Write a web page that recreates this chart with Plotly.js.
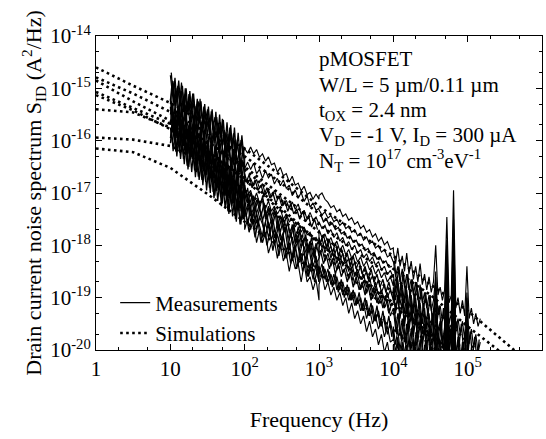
<!DOCTYPE html>
<html>
<head>
<meta charset="utf-8">
<script src="https://cdn.plot.ly/plotly-3.0.1.min.js"></script>
<style>html,body{margin:0;padding:0;background:#fff;}</style>
</head>
<body>
<div id="chart" style="width:546px;height:439px;"></div>
<script>
// ---- frequency grids (log10 of Hz) for the four measurement ranges ----
const lfA = [1.000,1.025,1.050,1.075,1.100,1.125,1.150,1.175,1.200,1.225,1.250,1.275,1.300,1.325,1.350,1.375,1.400,1.425,1.450,1.475,1.500,1.525,1.550,1.575,1.600,1.625,1.650,1.675,1.700,1.725,1.750,1.775,1.800,1.825,1.850,1.875,1.900,1.925,1.950,1.975,2.000];
const lfB = [2.00,2.04,2.08,2.12,2.16,2.20,2.24,2.28,2.32,2.36,2.40,2.44,2.48,2.52,2.56,2.60,2.64,2.68,2.72,2.76,2.80,2.84,2.88,2.92,2.96,3.00];
const lfC = [3.00,3.04,3.08,3.12,3.16,3.20,3.24,3.28,3.32,3.36,3.40,3.44,3.48,3.52,3.56,3.60,3.64,3.68,3.72,3.76,3.80,3.84,3.88,3.92,3.96,4.00];
const lfD = [4.00,4.03,4.06,4.09,4.12,4.15,4.18,4.21,4.24,4.27,4.30,4.33,4.36,4.39,4.42,4.45,4.48,4.51,4.54,4.57,4.60,4.63,4.66,4.69,4.72,4.75,4.78,4.81,4.84,4.87,4.90,4.93,4.96,4.99,5.02,5.05,5.08,5.11,5.14,5.17];
// interleaved grids of the extra single-range sweeps
const lfA2 = [1.0125,1.0375,1.0625,1.0875,1.1125,1.1375,1.1625,1.1875,1.2125,1.2375,1.2625,1.2875,1.3125,1.3375,1.3625,1.3875,1.4125,1.4375,1.4625,1.4875,1.5125,1.5375,1.5625,1.5875,1.6125,1.6375,1.6625,1.6875,1.7125,1.7375,1.7625,1.7875,1.8125,1.8375,1.8625,1.8875,1.9125,1.9375,1.9625,1.9875];
const lfB2 = [2.02,2.06,2.10,2.14,2.18,2.22,2.26,2.30,2.34,2.38,2.42,2.46,2.50,2.54,2.58,2.62,2.66,2.70,2.74,2.78,2.82,2.86,2.90,2.94,2.98];
const lfC2 = [3.02,3.06,3.10,3.14,3.18,3.22,3.26,3.30,3.34,3.38,3.42,3.46,3.50,3.54,3.58,3.62,3.66,3.70,3.74,3.78,3.82,3.86,3.90,3.94,3.98];
const lfD2 = [4.015,4.045,4.075,4.105,4.135,4.165,4.195,4.225,4.255,4.285,4.315,4.345,4.375,4.405,4.435,4.465,4.495,4.525,4.555,4.585,4.615,4.645,4.675,4.705,4.735,4.765,4.795,4.825,4.855,4.885,4.915,4.945,4.975,5.005,5.035,5.065,5.095,5.125,5.155];

// ---- measured spectra, log10(S_ID) per range, one set per device ----
const m1A = [-14.75,-15.08,-14.86,-15.24,-14.98,-15.26,-14.89,-15.22,-15.10,-15.48,-15.11,-15.39,-15.13,-15.56,-15.34,-15.57,-15.20,-15.58,-15.41,-15.74,-15.43,-15.86,-15.44,-15.72,-15.55,-15.93,-15.66,-15.94,-15.58,-16.06,-15.84,-16.17,-15.75,-16.08,-15.86,-16.24,-15.98,-16.36,-15.99,-16.27,-16.15];
const m2A = [-15.30,-14.98,-15.26,-14.99,-15.48,-15.21,-15.44,-15.17,-15.65,-15.38,-15.26,-15.64,-15.43,-15.76,-15.34,-15.72,-15.60,-15.93,-15.51,-15.84,-15.63,-15.86,-16.04,-15.62,-16.05,-15.83,-16.21,-15.79,-16.13,-15.91,-16.29,-15.87,-16.20,-16.08,-16.46,-16.04,-16.43,-16.21,-16.54,-16.17,-16.50];
const m3A = [-15.20,-15.53,-15.12,-15.50,-15.38,-15.71,-15.30,-15.68,-15.31,-15.64,-15.83,-15.51,-15.79,-15.47,-15.96,-15.69,-15.97,-15.65,-15.94,-15.67,-16.20,-15.88,-16.12,-15.85,-16.28,-16.06,-15.90,-16.33,-16.11,-16.49,-16.08,-16.41,-16.19,-16.57,-16.16,-16.49,-16.67,-16.35,-16.64,-16.37,-16.75];
const m4A = [-15.50,-15.28,-15.77,-15.45,-15.69,-15.37,-15.80,-15.64,-15.52,-15.95,-15.69,-16.07,-15.71,-15.94,-15.67,-16.11,-15.89,-16.22,-15.81,-16.19,-16.08,-16.36,-15.99,-16.48,-16.11,-16.39,-16.13,-16.41,-16.60,-16.18,-16.61,-16.40,-16.78,-16.36,-16.70,-16.48,-16.87,-16.45,-16.88,-16.72,-17.00];
const m5A = [-15.35,-15.79,-15.62,-15.91,-15.54,-15.88,-15.66,-16.10,-15.78,-15.97,-15.75,-16.19,-15.77,-16.16,-16.04,-16.38,-16.01,-16.30,-16.03,-16.47,-16.20,-16.49,-16.12,-16.46,-16.34,-16.73,-16.31,-16.70,-16.53,-16.82,-16.40,-16.79,-16.57,-17.01,-16.74,-16.98,-16.61,-17.10,-16.83,-17.07,-16.85];
const m6A = [-15.95,-15.69,-15.92,-15.61,-16.04,-15.73,-16.21,-15.95,-15.88,-16.27,-15.85,-16.19,-16.32,-16.01,-16.49,-16.18,-16.41,-16.10,-16.58,-16.37,-16.25,-16.74,-16.42,-16.71,-16.34,-16.73,-16.86,-16.55,-16.78,-16.52,-17.00,-16.74,-17.02,-16.71,-17.19,-16.88,-17.06,-16.85,-17.28,-16.97,-17.25];
const m7A = [-15.75,-16.04,-15.77,-16.21,-16.00,-16.23,-15.87,-16.25,-16.09,-16.48,-16.06,-16.35,-16.19,-16.57,-16.31,-16.69,-16.28,-16.67,-16.50,-16.79,-16.38,-16.76,-16.55,-16.98,-16.72,-16.96,-16.64,-17.08,-16.82,-17.05,-16.74,-17.22,-17.01,-17.25,-16.93,-17.42,-17.11,-17.29,-17.13,-17.51,-17.30];
const m8A = [-15.25,-14.85,-15.10,-15.35,-14.95,-15.30,-15.05,-15.45,-15.00,-15.40,-15.20,-15.55,-15.10,-15.30,-15.65,-15.25,-15.50,-15.75,-15.35,-15.60,-15.40,-15.85,-15.50,-15.70,-16.00,-15.55,-15.90,-15.65,-16.10,-15.80,-15.95,-16.25,-15.85,-16.15,-15.95,-16.40,-16.05,-16.30,-16.55,-16.10,-16.35];
const m9A = [-15.70,-15.30,-15.55,-15.85,-15.45,-15.75,-15.40,-15.95,-15.60,-15.80,-16.10,-15.65,-15.95,-15.75,-16.20,-15.85,-16.05,-16.35,-15.95,-16.25,-16.00,-16.45,-16.15,-16.30,-16.60,-16.20,-16.50,-16.30,-16.75,-16.40,-16.60,-16.90,-16.50,-16.80,-16.55,-17.00,-16.70,-16.90,-17.15,-16.75,-16.95];
const m10A = [-16.05,-15.65,-15.95,-16.20,-15.80,-16.10,-15.90,-16.35,-16.00,-16.25,-16.50,-16.05,-16.35,-16.15,-16.60,-16.25,-16.50,-16.75,-16.35,-16.65,-16.45,-16.90,-16.55,-16.75,-17.05,-16.65,-16.95,-16.75,-17.20,-16.85,-17.05,-17.35,-16.95,-17.25,-17.00,-17.50,-17.15,-17.35,-17.60,-17.20,-17.45];

const m1B = [-16.15,-16.24,-16.12,-16.25,-16.17,-16.32,-16.25,-16.39,-16.31,-16.46,-16.43,-16.60,-16.51,-16.67,-16.63,-16.79,-16.68,-16.85,-16.81,-16.96,-16.87,-17.03,-16.99,-17.12,-17.02,-17.12];
const m2B = [-16.53,-16.41,-16.55,-16.43,-16.63,-16.55,-16.72,-16.57,-16.71,-16.64,-16.83,-16.72,-16.86,-16.75,-16.91,-16.85,-17.05,-16.94,-17.10,-16.99,-17.16,-17.05,-17.27,-17.19,-17.33,-17.29];
const m3B = [-16.63,-16.83,-16.72,-16.86,-16.74,-16.91,-16.82,-17.03,-16.94,-17.08,-16.95,-17.12,-17.05,-17.24,-17.14,-17.29,-17.17,-17.31,-17.21,-17.41,-17.33,-17.50,-17.37,-17.52,-17.46,-17.60];
const m4B = [-16.85,-17.19,-16.99,-17.33,-17.13,-17.32,-17.06,-17.46,-17.25,-17.45,-17.29,-17.68,-17.43,-17.72,-17.42,-17.76,-17.65,-17.95,-17.64,-17.94,-17.68,-18.07,-17.92,-18.21,-17.96,-18.20];
const m5B = [-17.30,-17.05,-17.44,-17.29,-17.58,-17.28,-17.53,-17.32,-17.67,-17.51,-17.86,-17.56,-17.90,-17.75,-17.64,-18.09,-17.84,-18.08,-17.88,-18.32,-18.02,-18.22,-18.01,-18.41,-18.20,-18.55];
const m6B = [-17.25,-17.60,-17.25,-17.60,-17.40,-17.65,-17.85,-17.55,-17.85,-17.60,-18.00,-17.80,-18.00,-17.80,-18.25,-18.00,-18.30,-18.05,-18.35,-18.25,-18.15,-18.60,-18.35,-18.65,-18.35,-18.70];
const m7B = [-17.70,-17.50,-17.70,-17.50,-17.95,-17.70,-17.95,-17.75,-18.15,-17.95,-17.90,-18.25,-17.95,-18.30,-18.15,-18.50,-18.20,-18.45,-18.35,-18.70,-18.35,-18.70,-18.60,-18.85,-18.65,-19.05];
const m8B = [-17.15,-16.90,-17.30,-17.05,-17.40,-17.20,-17.15,-17.50,-17.30,-17.60,-17.35,-17.45,-17.75,-17.50,-17.65,-17.90,-17.60,-17.95,-17.80,-18.05,-17.85,-18.15,-17.95,-18.10,-18.35,-18.25];
const m9B = [-17.45,-17.20,-17.55,-17.35,-17.70,-17.45,-17.60,-17.85,-17.55,-17.90,-17.70,-17.80,-18.05,-17.85,-18.10,-17.95,-18.25,-18.00,-18.30,-18.15,-18.40,-18.20,-18.50,-18.35,-18.45,-18.70];
const m10B = [-16.90,-17.05,-16.95,-17.15,-17.00,-17.20,-17.10,-17.30,-17.15,-17.35,-17.25,-17.40,-17.30,-17.50,-17.40,-17.55,-17.50,-17.65,-17.55,-17.75,-17.65,-17.80,-17.75,-17.90,-17.85,-17.95];

const m1C = [-17.05,-17.00,-17.12,-17.18,-17.28,-17.24,-17.36,-17.31,-17.45,-17.40,-17.52,-17.47,-17.60,-17.55,-17.68,-17.62,-17.75,-17.70,-17.84,-17.78,-17.92,-17.85,-17.99,-17.93,-18.08,-18.05];
const m2C = [-17.32,-17.42,-17.36,-17.48,-17.43,-17.55,-17.50,-17.62,-17.56,-17.68,-17.63,-17.75,-17.70,-17.82,-17.77,-17.90,-17.84,-17.97,-17.92,-18.05,-18.00,-18.13,-18.08,-18.22,-18.18,-18.32];
const m3C = [-17.55,-17.68,-17.62,-17.78,-17.70,-17.85,-17.76,-17.92,-17.85,-18.01,-17.93,-18.08,-18.00,-18.15,-18.08,-18.24,-18.16,-18.31,-18.22,-18.38,-18.31,-18.47,-18.40,-18.56,-18.48,-18.62];
const m4C = [-17.85,-18.05,-17.90,-18.10,-18.02,-18.22,-18.05,-18.30,-18.15,-18.35,-18.25,-18.45,-18.32,-18.55,-18.40,-18.62,-18.50,-18.70,-18.58,-18.82,-18.65,-18.90,-18.75,-19.00,-18.85,-19.05];
const m5C = [-18.25,-18.05,-18.30,-18.15,-18.40,-18.22,-18.48,-18.30,-18.52,-18.42,-18.65,-18.48,-18.75,-18.55,-18.85,-18.68,-18.92,-18.75,-19.02,-18.85,-19.12,-18.95,-19.20,-19.05,-19.35,-19.20];
const m6C = [-18.40,-18.60,-18.45,-18.70,-18.55,-18.75,-18.60,-18.85,-18.70,-18.95,-18.80,-19.05,-18.90,-19.12,-19.00,-19.25,-19.05,-19.35,-19.15,-19.45,-19.25,-19.55,-19.35,-19.70,-19.45,-19.75];
const m7C = [-18.75,-18.55,-18.85,-18.70,-18.95,-18.80,-19.05,-18.90,-19.15,-19.00,-19.30,-19.10,-19.40,-19.25,-19.50,-19.35,-19.65,-19.45,-19.75,-19.60,-19.90,-19.70,-20.05,-19.85,-20.20,-20.00];
const m8C = [-18.05,-17.85,-18.15,-17.95,-18.25,-18.05,-18.35,-18.15,-18.40,-18.25,-18.50,-18.30,-18.60,-18.45,-18.65,-18.55,-18.80,-18.60,-18.90,-18.70,-18.95,-18.85,-19.05,-18.90,-19.15,-19.10];
const m9C = [-18.55,-18.35,-18.65,-18.45,-18.75,-18.55,-18.85,-18.70,-18.95,-18.80,-19.05,-18.90,-19.15,-19.00,-19.25,-19.10,-19.40,-19.20,-19.50,-19.35,-19.60,-19.45,-19.75,-19.55,-19.85,-19.80];
const m10C = [-17.70,-17.85,-17.78,-17.95,-17.85,-18.02,-17.92,-18.10,-18.00,-18.18,-18.08,-18.25,-18.15,-18.32,-18.22,-18.40,-18.30,-18.47,-18.38,-18.55,-18.45,-18.62,-18.52,-18.70,-18.60,-18.78];

const m1D = [-18.10,-18.35,-18.05,-18.40,-18.20,-18.50,-18.15,-18.55,-18.30,-18.65,-18.40,-18.70,-18.35,-18.75,-18.55,-18.85,-18.60,-18.90,-18.70,-18.00,-18.95,-18.80,-19.05,-18.85,-17.46,-19.10,-18.95,-16.95,-19.20,-19.00,-19.30,-19.05,-19.35,-18.40,-19.40,-19.20,-19.50,-19.30,-19.55,-19.40];
const m2D = [-18.30,-18.60,-18.40,-18.70,-18.45,-18.80,-18.55,-18.85,-18.65,-18.95,-18.70,-19.05,-18.75,-19.10,-18.90,-19.20,-18.95,-19.25,-19.05,-18.60,-19.30,-19.15,-19.45,-19.20,-17.90,-19.50,-19.30,-17.50,-19.60,-19.40,-19.70,-19.45,-19.80,-18.90,-19.85,-19.60,-19.95,-19.70,-20.05,-19.85];
const m3D = [-18.55,-18.90,-18.65,-19.00,-18.75,-19.10,-18.85,-19.20,-18.95,-19.30,-19.00,-19.40,-19.10,-19.50,-19.20,-19.60,-19.30,-19.70,-19.40,-19.00,-19.80,-19.50,-19.90,-19.60,-18.40,-20.00,-19.75,-18.10,-20.10,-19.85,-20.20,-19.95,-20.30,-19.50,-20.40,-20.05,-20.50,-20.20,-20.60,-20.30];
const m4D = [-18.85,-19.30,-19.00,-19.40,-19.10,-19.55,-19.20,-19.65,-19.30,-19.75,-19.40,-19.85,-19.50,-19.95,-19.60,-20.10,-19.70,-20.20,-19.80,-19.30,-20.30,-19.90,-20.40,-20.00,-18.70,-20.50,-20.10,-18.40,-20.60,-20.20,-20.70,-20.30,-20.80,-19.90,-20.90,-20.40,-21.00,-20.50,-21.10,-20.60];
const m5D = [-19.20,-19.60,-19.30,-19.70,-19.40,-19.85,-19.50,-19.95,-19.60,-20.05,-19.70,-20.15,-19.80,-20.25,-19.90,-20.35,-20.00,-20.45,-20.10,-19.60,-20.55,-20.20,-20.65,-20.30,-19.10,-20.75,-20.40,-18.70,-20.85,-20.50,-20.95,-20.60,-21.05,-20.10,-21.15,-20.70,-21.25,-20.80,-21.35,-20.90];
const m6D = [-19.55,-19.90,-19.60,-20.00,-19.70,-20.10,-19.75,-20.20,-19.85,-20.30,-19.95,-20.40,-20.00,-20.50,-20.10,-20.60,-20.20,-20.70,-20.30,-19.90,-20.80,-20.40,-20.90,-20.50,-19.50,-21.00,-20.60,-19.20,-21.10,-20.70,-21.20,-20.80,-21.30,-20.40,-21.40,-20.90,-21.50,-21.00,-21.60,-21.10];
const m7D = [-19.90,-20.20,-19.85,-20.30,-19.95,-20.40,-20.05,-20.50,-20.10,-20.60,-20.20,-20.70,-20.30,-20.80,-20.40,-20.90,-20.50,-21.00,-20.60,-20.20,-21.10,-20.70,-21.20,-20.80,-19.90,-21.30,-20.90,-19.60,-21.40,-21.00,-21.50,-21.10,-21.60,-20.80,-21.70,-21.20,-21.80,-21.30,-21.90,-21.40];
const m8D = [-18.80,-19.25,-18.95,-19.35,-19.05,-19.45,-19.10,-19.55,-19.20,-19.65,-19.30,-19.75,-19.40,-19.85,-19.50,-19.95,-19.60,-20.05,-19.70,-18.50,-20.10,-19.80,-20.20,-19.90,-18.20,-20.30,-20.00,-17.80,-20.40,-20.10,-20.50,-20.20,-20.60,-19.30,-20.70,-20.30,-20.80,-20.40,-20.90,-20.50];
const m9D = [-19.70,-20.05,-19.75,-20.15,-19.85,-20.25,-19.90,-20.35,-20.00,-20.45,-20.05,-20.55,-20.15,-20.65,-20.25,-20.75,-20.30,-20.85,-20.40,-19.80,-20.95,-20.50,-21.05,-20.60,-19.70,-21.15,-20.70,-19.40,-21.25,-20.80,-21.35,-20.90,-21.45,-20.60,-21.55,-21.00,-21.65,-21.10,-21.75,-21.20];
const m10D = [-18.65,-19.05,-18.75,-19.15,-18.85,-19.30,-18.95,-19.40,-19.05,-19.50,-19.15,-19.60,-19.25,-19.70,-19.35,-19.80,-19.45,-19.90,-19.55,-18.80,-19.65,-19.45,-19.95,-19.55,-18.00,-20.05,-19.65,-17.70,-20.15,-19.75,-20.25,-19.85,-20.35,-19.00,-20.45,-19.95,-20.55,-20.05,-20.65,-20.15];

// ---- extra single-range sweeps (interleaved frequency points) ----
const eA1 = [-14.70,-15.15,-14.80,-15.25,-14.85,-15.30,-14.95,-15.40,-15.00,-15.45,-15.05,-15.50,-15.10,-15.55,-15.20,-15.65,-15.25,-15.70,-15.30,-15.75,-15.35,-15.80,-15.40,-15.90,-15.45,-15.95,-15.50,-16.00,-15.60,-16.05,-15.65,-16.10,-15.70,-16.20,-15.75,-16.25,-15.85,-16.30,-15.90,-16.30];
const eA2 = [-15.40,-14.95,-15.35,-15.05,-15.50,-15.10,-15.55,-15.20,-15.65,-15.25,-15.70,-15.30,-15.80,-15.40,-15.85,-15.45,-15.95,-15.55,-16.00,-15.60,-16.10,-15.70,-16.15,-15.75,-16.25,-15.85,-16.30,-15.90,-16.40,-16.00,-16.45,-16.05,-16.55,-16.15,-16.60,-16.20,-16.70,-16.30,-16.75,-16.40];
const eA3 = [-15.25,-15.70,-15.35,-15.75,-15.40,-15.85,-15.45,-15.95,-15.55,-16.00,-15.60,-16.10,-15.70,-16.15,-15.75,-16.25,-15.85,-16.30,-15.90,-16.40,-16.00,-16.45,-16.05,-16.55,-16.15,-16.60,-16.20,-16.70,-16.30,-16.75,-16.40,-16.85,-16.45,-16.95,-16.55,-17.00,-16.60,-17.05,-16.70,-17.00];
const eA4 = [-15.95,-15.50,-15.95,-15.60,-16.05,-15.65,-16.15,-15.75,-16.20,-15.80,-16.30,-15.90,-16.35,-15.95,-16.45,-16.05,-16.50,-16.10,-16.60,-16.20,-16.65,-16.25,-16.75,-16.35,-16.80,-16.40,-16.90,-16.50,-16.95,-16.55,-17.05,-16.65,-17.10,-16.70,-17.20,-16.80,-17.25,-16.85,-17.35,-16.95];
const eA5 = [-15.75,-16.20,-15.85,-16.30,-15.90,-16.35,-16.00,-16.45,-16.05,-16.55,-16.15,-16.60,-16.20,-16.70,-16.30,-16.75,-16.40,-16.85,-16.45,-16.95,-16.55,-17.00,-16.60,-17.10,-16.70,-17.15,-16.80,-17.25,-16.85,-17.30,-16.95,-17.40,-17.00,-17.45,-17.10,-17.55,-17.15,-17.60,-17.25,-17.50];
const eA6 = [-15.30,-15.85,-15.50,-15.95,-15.45,-16.05,-15.60,-16.10,-15.70,-16.25,-15.75,-16.30,-15.85,-16.40,-15.95,-16.45,-16.00,-16.55,-16.10,-16.65,-16.20,-16.70,-16.25,-16.80,-16.35,-16.90,-16.45,-16.95,-16.50,-17.05,-16.60,-17.10,-16.70,-17.20,-16.75,-17.30,-16.85,-17.35,-16.95,-17.40];
const eB1 = [-16.95,-17.25,-17.05,-17.35,-17.10,-17.45,-17.20,-17.50,-17.30,-17.60,-17.35,-17.70,-17.45,-17.75,-17.55,-17.85,-17.60,-17.95,-17.70,-18.00,-17.80,-18.10,-17.85,-18.20,-17.95];
const eB2 = [-17.45,-17.15,-17.55,-17.25,-17.60,-17.35,-17.70,-17.40,-17.80,-17.50,-17.85,-17.60,-17.95,-17.65,-18.05,-17.75,-18.10,-17.85,-18.20,-17.90,-18.30,-18.00,-18.35,-18.10,-18.45];
const eB3 = [-17.40,-17.75,-17.50,-17.85,-17.55,-17.95,-17.65,-18.00,-17.75,-18.10,-17.80,-18.20,-17.90,-18.25,-18.00,-18.35,-18.05,-18.45,-18.15,-18.50,-18.25,-18.60,-18.30,-18.70,-18.45];
const eB4 = [-16.80,-16.65,-16.90,-16.75,-16.95,-16.85,-17.05,-16.90,-17.10,-17.00,-17.20,-17.05,-17.25,-17.15,-17.35,-17.20,-17.40,-17.30,-17.50,-17.35,-17.55,-17.45,-17.65,-17.50,-17.70];
const eC1 = [-17.95,-17.80,-18.05,-17.90,-18.15,-17.95,-18.20,-18.05,-18.30,-18.15,-18.40,-18.20,-18.45,-18.30,-18.55,-18.40,-18.65,-18.45,-18.70,-18.55,-18.80,-18.65,-18.90,-18.70,-18.95];
const eC2 = [-18.10,-18.35,-18.20,-18.45,-18.25,-18.55,-18.35,-18.60,-18.45,-18.70,-18.50,-18.80,-18.60,-18.85,-18.70,-18.95,-18.75,-19.05,-18.85,-19.10,-18.95,-19.20,-19.00,-19.30,-19.10];
const eC3 = [-18.60,-18.40,-18.70,-18.50,-18.80,-18.55,-18.90,-18.65,-19.00,-18.75,-19.05,-18.85,-19.15,-18.90,-19.25,-19.00,-19.35,-19.10,-19.45,-19.15,-19.55,-19.25,-19.65,-19.35,-19.75];
const eC4 = [-17.40,-17.55,-17.50,-17.62,-17.58,-17.70,-17.66,-17.78,-17.74,-17.86,-17.82,-17.94,-17.90,-18.02,-17.98,-18.10,-18.06,-18.18,-18.14,-18.26,-18.22,-18.34,-18.30,-18.42,-18.40];
const eD1 = [-18.30,-18.75,-18.40,-18.85,-18.50,-18.95,-18.55,-19.00,-18.65,-19.10,-18.70,-19.20,-18.80,-19.25,-18.90,-19.35,-18.95,-19.45,-19.05,-19.50,-19.15,-19.60,-19.20,-19.70,-19.30,-19.75,-19.35,-19.85,-19.45,-19.90,-19.50,-20.00,-19.60,-20.05,-19.65,-20.15,-19.75,-20.20,-19.80];
const eD2 = [-19.00,-18.60,-19.10,-18.70,-19.20,-18.80,-19.30,-18.85,-19.40,-18.95,-19.50,-19.05,-19.55,-19.10,-19.65,-19.20,-19.75,-19.30,-19.85,-19.35,-19.95,-19.45,-20.05,-19.50,-20.10,-19.60,-20.20,-19.70,-20.30,-19.75,-20.40,-19.85,-20.45,-19.90,-20.55,-20.00,-20.65,-20.05,-20.70];
const eD3 = [-19.20,-19.70,-19.30,-19.80,-19.40,-19.90,-19.45,-20.00,-19.55,-20.10,-19.60,-20.20,-19.70,-20.25,-19.80,-20.35,-19.85,-20.45,-19.95,-20.50,-20.05,-20.60,-20.10,-20.70,-20.20,-20.75,-20.30,-20.85,-20.35,-20.95,-20.45,-21.00,-20.55,-21.10,-20.60,-21.20,-20.70,-21.25,-20.80];

// ---- simulated spectra, log10(S_ID) at log10(f) = 0, 0.5, ..., 6 ----
const lfSim = [0,0.5,1,1.5,2,2.5,3,3.5,4,4.5,5,5.5,6];
const s1 = [-14.60,-14.95,-15.28,-15.70,-16.15,-16.68,-17.25,-17.75,-18.20,-18.75,-19.25,-19.85,-20.45];
const s2 = [-14.79,-15.10,-15.45,-15.85,-16.30,-16.82,-17.40,-17.95,-18.45,-18.95,-19.55,-20.10,-20.70];
const s3 = [-14.85,-15.25,-15.62,-16.02,-16.50,-17.05,-17.60,-18.12,-18.62,-19.15,-19.85,-20.45,-21.00];
const s4 = [-15.07,-15.38,-15.68,-16.05,-16.55,-17.15,-17.75,-18.35,-18.90,-19.45,-20.05,-20.60,-21.20];
const s5 = [-15.13,-15.42,-15.78,-16.20,-16.72,-17.30,-17.95,-18.55,-19.10,-19.70,-20.30,-20.90,-21.50];
const s6 = [-15.40,-15.46,-15.75,-16.20,-16.75,-17.35,-17.95,-18.55,-19.15,-19.75,-20.35,-20.95,-21.50];
const s7 = [-15.94,-15.98,-16.10,-16.45,-16.95,-17.50,-18.10,-18.70,-19.30,-19.90,-20.50,-21.10,-21.70];
const s8 = [-16.15,-16.22,-16.52,-17.02,-17.55,-18.05,-18.55,-19.05,-19.60,-20.15,-20.70,-21.30,-21.90];

// ---- axis ticks ----
const xTickVals = [1,10,100,1000,10000,100000,1000000];
const xTickText = ['1','10','10<sup>2</sup>','10<sup>3</sup>','10<sup>4</sup>','10<sup>5</sup>','10<sup>6</sup>'];
const yTickVals = [1e-20,1e-19,1e-18,1e-17,1e-16,1e-15,1e-14];
const yTickText = ['10<sup>-20</sup>','10<sup>-19</sup>','10<sup>-18</sup>','10<sup>-17</sup>','10<sup>-16</sup>','10<sup>-15</sup>','10<sup>-14</sup>'];

const pow10 = a => a.map(v => Math.pow(10, v));
const measured = [
  [m1A,m1B,m1C,m1D],[m8A,m8B,m8C,m8D],[m2A,m2B,m2C,m2D],[m3A,m3B,m3C,m3D],[m10A,m10B,m10C,m10D],
  [m4A,m4B,m4C,m4D],[m5A,m5B,m5C,m5D],[m9A,m9B,m9C,m9D],[m6A,m6B,m6C,m6D],[m7A,m7B,m7C,m7D]
];
const extras = [
  [lfA2,eA1],[lfA2,eA2],[lfA2,eA3],[lfA2,eA4],[lfA2,eA5],[lfA2,eA6],
  [lfB2,eB1],[lfB2,eB2],[lfB2,eB3],[lfB2,eB4],
  [lfC2,eC1],[lfC2,eC2],[lfC2,eC3],[lfC2,eC4],
  [lfD2,eD1],[lfD2,eD2],[lfD2,eD3]
];
const simulated = [s1,s2,s3,s4,s5,s6,s7,s8];
const lfAll = lfA.concat(lfB, lfC, lfD);

const traces = [];
measured.forEach((segs, i) => {
  traces.push({
    type:'scatter', mode:'lines',
    x: pow10(lfAll), y: pow10(segs[0].concat(segs[1], segs[2], segs[3])),
    line:{color:'black', width:1.15},
    name:'Measurements', legendgroup:'meas', showlegend: i === 0,
    hoverinfo:'skip'
  });
});
extras.forEach(([lf, v]) => {
  traces.push({
    type:'scatter', mode:'lines', x: pow10(lf), y: pow10(v),
    line:{color:'black', width:1.3},
    name:'Measurements', legendgroup:'meas', showlegend:false, hoverinfo:'skip'
  });
});
simulated.forEach((s, i) => {
  traces.push({
    type:'scatter', mode:'lines',
    x: pow10(lfSim), y: pow10(s),
    line:{color:'black', width:2.6, dash:'2.6px,3.4px'},
    name:'Simulations', legendgroup:'sim', showlegend: i === 0,
    hoverinfo:'skip'
  });
});

const FONT = '"Liberation Serif", "Times New Roman", Times, "DejaVu Serif", serif';
const layout = {
  width:546, height:439,
  margin:{l:96, r:4, t:36, b:89},
  paper_bgcolor:'white', plot_bgcolor:'white',
  font:{family:FONT, size:21, color:'black'},
  showlegend:true,
  legend:{x:0.043, y:0.215, xanchor:'left', yanchor:'top', bgcolor:'rgba(0,0,0,0)',
          font:{family:FONT, size:21, color:'black'}, tracegroupgap:0, borderwidth:0},
  xaxis:{
    type:'log', range:[0,6], tickmode:'array', tickvals:xTickVals, ticktext:xTickText,
    ticks:'inside', ticklen:6, tickwidth:1, tickcolor:'black',
    showline:true, linecolor:'black', linewidth:1, mirror:'allticks',
    showgrid:false, zeroline:false,
    minor:{ticks:'inside', ticklen:3, tickwidth:1, tickcolor:'black', dtick:'D2', showgrid:false},
    tickfont:{family:FONT, size:21, color:'black'},
    title:{text:'Frequency (Hz)', standoff:31, font:{family:FONT, size:22, color:'black'}}
  },
  yaxis:{
    type:'log', range:[-20,-14], tickmode:'array', tickvals:yTickVals, ticktext:yTickText,
    ticks:'inside', ticklen:6, tickwidth:1, tickcolor:'black',
    showline:true, linecolor:'black', linewidth:1, mirror:'allticks',
    showgrid:false, zeroline:false,
    minor:{ticks:'inside', ticklen:3, tickwidth:1, tickcolor:'black', dtick:'D2', showgrid:false},
    tickfont:{family:FONT, size:21, color:'black'},
    title:{text:'Drain current noise spectrum S<sub>ID</sub> (A<sup>2</sup>/Hz)', standoff:2, font:{family:FONT, size:22, color:'black'}}
  },
  annotations:[
    {text:'pMOSFET', x:0.4955, y:0.928},
    {text:'W/L = 5 µm/0.11 µm', x:0.4955, y:0.845},
    {text:'t<sub>OX</sub> = 2.4 nm', x:0.4955, y:0.762},
    {text:'V<sub>D</sub> = -1 V, I<sub>D</sub> = 300 µA', x:0.4955, y:0.680},
    {text:'N<sub>T</sub> = 10<sup>17</sup> cm<sup>-3</sup>eV<sup>-1</sup>', x:0.4955, y:0.605}
  ].map(a => Object.assign({xref:'paper', yref:'paper', xanchor:'left', yanchor:'middle', showarrow:false,
          font:{family:FONT, size:21, color:'black'}}, a))
};

Plotly.newPlot('chart', traces, layout, {displayModeBar:false, staticPlot:true});
</script>
</body>
</html>
